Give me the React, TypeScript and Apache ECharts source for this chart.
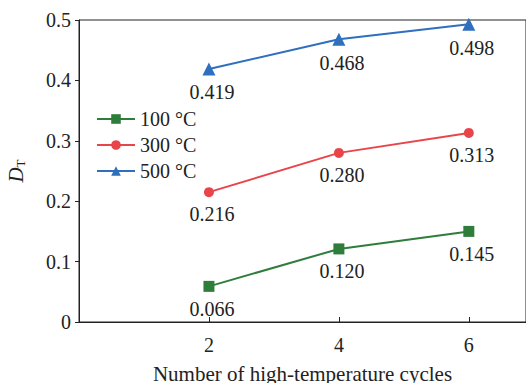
import React, { useEffect, useRef } from "react";
import * as echarts from "echarts";

const cycles = [2, 4, 6];
const seriesNames = ["100 °C", "300 °C", "500 °C"];
const values100 = [0.059, 0.121, 0.15];
const values300 = [0.215, 0.28, 0.313];
const values500 = [0.419, 0.468, 0.493];
const labels100 = ["0.066", "0.120", "0.145"];
const labels300 = ["0.216", "0.280", "0.313"];
const labels500 = ["0.419", "0.468", "0.498"];
const colors = ["#2f7d3b", "#e8454b", "#2e6fbe"];
const symbols = ["rect", "circle", "triangle"];
const symbolSizes = [11, 10, 13];

const FONT = "Liberation Serif";

export default function App() {
  const ref = useRef<HTMLDivElement>(null);
  useEffect(() => {
    if (!ref.current) return;
    const chart = echarts.init(ref.current, null, { renderer: "svg" });
    const vals = [values100, values300, values500];
    const labs = [labels100, labels300, labels500];
    chart.setOption({
      animation: false,
      textStyle: { fontFamily: FONT },
      grid: {
        left: 79,
        right: 0,
        top: 20,
        bottom: 61,
        show: true,
        borderColor: "#222",
        borderWidth: 1,
        containLabel: false,
        outerBoundsMode: "none",
      },
      legend: {
        left: 91,
        top: 104,
        orient: "vertical",
        itemWidth: 38,
        itemHeight: 12,
        itemGap: 6,
        textStyle: { fontFamily: FONT, fontSize: 20, color: "#222" },
        data: seriesNames,
      },
      xAxis: {
        type: "value",
        min: 0,
        max: 6.88,
        interval: 2,
        name: "Number of high-temperature cycles",
        nameLocation: "middle",
        nameGap: 41,
        nameTextStyle: { fontFamily: FONT, fontSize: 21, color: "#222" },
        axisLine: { lineStyle: { color: "#222", width: 1 } },
        axisTick: { inside: true, length: 5, lineStyle: { color: "#222" } },
        splitLine: { show: false },
        axisLabel: {
          fontFamily: FONT,
          fontSize: 20,
          color: "#222",
          margin: 13,
          showMaxLabel: false,
          formatter: (v: number) => (v === 0 || v > 6 ? "" : String(v)),
        },
      },
      yAxis: {
        type: "value",
        min: 0,
        max: 0.5,
        interval: 0.1,
        name: "{d|D}{t|T}",
        nameLocation: "middle",
        nameGap: 52,
        nameRotate: 90,
        nameTextStyle: {
          rich: {
            d: { fontFamily: FONT, fontSize: 21, fontStyle: "italic", color: "#222" },
            t: { fontFamily: FONT, fontSize: 13, color: "#222", padding: [10, 0, 0, 0] },
          },
        },
        axisLine: { show: true, lineStyle: { color: "#222", width: 1 } },
        axisTick: { show: true, inside: false, length: 4, lineStyle: { color: "#222" } },
        splitLine: { show: false },
        axisLabel: {
          fontFamily: FONT,
          fontSize: 20,
          color: "#222",
          margin: 8,
          formatter: (v: number) => (v === 0 ? "0" : v.toFixed(1)),
        },
      },
      series: seriesNames.map((name, i) => ({
        name,
        type: "line",
        data: cycles.map((c, j) => [c, vals[i][j]]),
        symbol: symbols[i],
        symbolSize: symbolSizes[i],
        color: colors[i],
        lineStyle: { color: colors[i], width: 2 },
        itemStyle: { color: colors[i] },
        label: {
          show: true,
          position: "bottom",
          distance: 7,
          offset: [3, 0],
          fontFamily: FONT,
          fontSize: 20,
          color: "#222",
          formatter: (p: any) => labs[i][p.dataIndex],
        },
      })),
    });
    return () => chart.dispose();
  }, []);
  return (
    <div
      ref={ref}
      style={{ position: "fixed", left: 0, top: 0, width: 526, height: 383, background: "#fff" }}
    />
  );
}
